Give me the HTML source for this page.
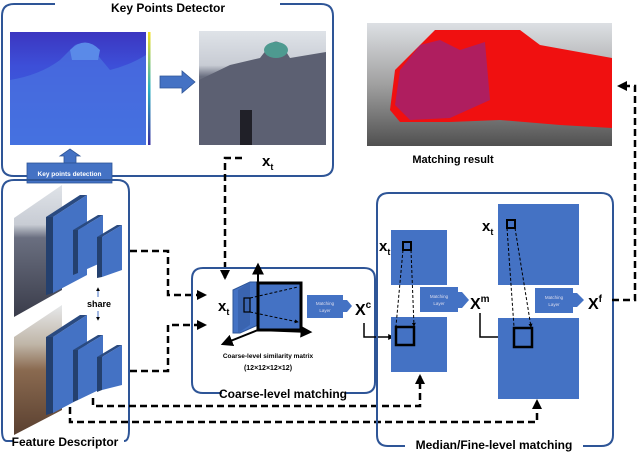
<!DOCTYPE html>
<html><head><meta charset="utf-8"><style>
html,body{margin:0;padding:0;background:#fff;}
svg{display:block;font-family:"Liberation Sans",Arial,sans-serif;}
</style></head><body>
<svg width="640" height="453" viewBox="0 0 640 453" xmlns="http://www.w3.org/2000/svg">
<defs>
<marker id="ah" viewBox="0 0 10 10" refX="8" refY="5" markerWidth="4" markerHeight="4" orient="auto"><path d="M0,0 L10,5 L0,10 z" fill="#000"/></marker>
<marker id="ahs" viewBox="0 0 10 10" refX="8" refY="5" markerWidth="6" markerHeight="6" orient="auto"><path d="M0,0 L10,5 L0,10 z" fill="#000"/></marker>
<linearGradient id="sky" x1="0" y1="0" x2="0" y2="1"><stop offset="0" stop-color="#dfe3e8"/><stop offset="0.3" stop-color="#c8ccd4"/><stop offset="0.4" stop-color="#6a6f80"/><stop offset="1" stop-color="#3a3c4a"/></linearGradient>
<linearGradient id="sky2" x1="0" y1="0" x2="0" y2="1"><stop offset="0" stop-color="#e6e8ea"/><stop offset="0.3" stop-color="#c0b6a8"/><stop offset="0.5" stop-color="#8a6a50"/><stop offset="1" stop-color="#5a4030"/></linearGradient>
<linearGradient id="heat" x1="0" y1="0" x2="0" y2="1"><stop offset="0" stop-color="#3c36c0"/><stop offset="0.3" stop-color="#3d4fd8"/><stop offset="1" stop-color="#3a6ee0"/></linearGradient>
<linearGradient id="cbar" x1="0" y1="1" x2="0" y2="0"><stop offset="0" stop-color="#3a2fa0"/><stop offset="0.5" stop-color="#2bb0c0"/><stop offset="1" stop-color="#f5e020"/></linearGradient>
<linearGradient id="res" x1="0" y1="0" x2="0" y2="1"><stop offset="0" stop-color="#dde0e4"/><stop offset="0.5" stop-color="#a0a0a0"/><stop offset="1" stop-color="#505050"/></linearGradient>
</defs>

<!-- Key Points Detector box -->
<path d="M55,4 H14 Q2,4 2,16 V165 Q2,176 14,176 H321 Q333,176 333,165 V16 Q333,4 321,4 H280" fill="none" stroke="#2e5597" stroke-width="2"/>
<text x="168" y="12" font-size="12" font-weight="bold" text-anchor="middle">Key Points Detector</text>
<rect x="10" y="32" width="136" height="113" fill="url(#heat)"/>
<path d="M10,80 Q40,75 60,60 L75,45 Q85,40 95,52 L110,70 Q130,65 146,55 V145 H10 Z" fill="#4a74e0" opacity="0.7"/>
<path d="M70,50 Q85,35 100,50 L98,60 L72,60 Z" fill="#5a8ae8"/>
<rect x="148" y="32" width="2.5" height="113" fill="url(#cbar)"/>
<path d="M160,76 H182 V71 L195,82 L182,93 V88 H160 Z" fill="#4472c4" stroke="#2e5597" stroke-width="0.8"/>
<rect x="199" y="31" width="127" height="114" fill="url(#sky)"/>
<path d="M199,80 L230,65 L260,58 L270,45 Q276,38 282,45 L290,58 L326,52 V145 H199 Z" fill="#5c6072"/>
<ellipse cx="276" cy="50" rx="12" ry="8" fill="#4e9a90"/>
<rect x="240" y="110" width="12" height="35" fill="#202028"/>
<!-- Key points detection box -->
<path d="M64,163 V156 H60 L70,149 L80,156 H76 V163 Z" fill="#4472c4" stroke="#2e5597" stroke-width="0.8"/>
<rect x="27" y="163" width="85" height="20" fill="#4472c4" stroke="#2e5597" stroke-width="0.8"/>
<text x="69.5" y="176" font-size="6.5" fill="#fff" text-anchor="middle" font-weight="bold">Key points detection</text>
<text x="262" y="166" font-size="15" font-weight="bold">x<tspan font-size="9" dy="4">t</tspan></text>
<path d="M242,158 H225 V278" fill="none" stroke="#000" stroke-width="2.5" stroke-dasharray="7,4" marker-end="url(#ah)"/>

<!-- Feature Descriptor box -->
<path d="M13,441 H7 Q2,441 2,430 V192 Q2,180 14,180 H117 Q129,180 129,192 V430 Q129,441 124,441" fill="none" stroke="#2e5597" stroke-width="2"/>
<text x="65" y="446" font-size="12" font-weight="bold" text-anchor="middle">Feature Descriptor</text>
<polygon points="14,218 62,185 62,290 14,317" fill="url(#sky)"/>
<polygon points="46,217 80,195 87,195 53,217" fill="#2a4a80"/>
<polygon points="46,217 53,217 53,293 46,295" fill="#24406e"/>
<polygon points="53,217 87,195 87,275 53,293" fill="#4472c4"/>
<polygon points="73,230 98,215 103,215 78,230" fill="#2a4a80"/>
<polygon points="73,230 78,230 78,273 73,275" fill="#24406e"/>
<polygon points="78,230 103,215 103,262 78,273" fill="#4472c4"/>
<polygon points="97,237 117,225 122,225 102,237" fill="#2a4a80"/>
<polygon points="97,237 102,237 102,277 97,278" fill="#24406e"/>
<polygon points="102,237 122,225 122,270 102,277" fill="#4472c4"/>
<polygon points="14,337 62,305 62,410 14,435" fill="url(#sky2)"/>
<polygon points="46,337 80,315 87,315 53,337" fill="#2a4a80"/>
<polygon points="46,337 53,337 53,413 46,415" fill="#24406e"/>
<polygon points="53,337 87,315 87,395 53,413" fill="#4472c4"/>
<polygon points="73,350 98,335 103,335 78,350" fill="#2a4a80"/>
<polygon points="73,350 78,350 78,400 73,402" fill="#24406e"/>
<polygon points="78,350 103,335 103,388 78,400" fill="#4472c4"/>
<polygon points="97,357 117,345 122,345 102,357" fill="#2a4a80"/>
<polygon points="97,357 102,357 102,390 97,392" fill="#24406e"/>
<polygon points="102,357 122,345 122,385 102,390" fill="#4472c4"/>
<text x="99" y="307" font-size="9" font-weight="bold" text-anchor="middle">share</text>
<path d="M98,297 V288" stroke="#4472c4" stroke-width="1" marker-end="url(#ah)"/>
<path d="M98,311 V320" stroke="#4472c4" stroke-width="1" marker-end="url(#ah)"/>

<!-- dashed connectors -->
<path d="M130,251 H168 V295 H205" fill="none" stroke="#000" stroke-width="2.5" stroke-dasharray="7,4" marker-end="url(#ah)"/>
<path d="M130,371 H168 V325 H205" fill="none" stroke="#000" stroke-width="2.5" stroke-dasharray="7,4" marker-end="url(#ah)"/>
<path d="M93,398 V406 H420 V376" fill="none" stroke="#000" stroke-width="2.5" stroke-dasharray="7,4" marker-end="url(#ah)"/>
<path d="M70,407 V422 H537 V401" fill="none" stroke="#000" stroke-width="2.5" stroke-dasharray="7,4" marker-end="url(#ah)"/>

<!-- Coarse box -->
<path d="M222,393 H203 Q192,393 192,382 V279 Q192,268 203,268 H364 Q375,268 375,279 V382 Q375,393 364,393 H345" fill="none" stroke="#2e5597" stroke-width="2"/>
<text x="283" y="398" font-size="12" font-weight="bold" text-anchor="middle">Coarse-level matching</text>
<text x="218" y="311" font-size="15" font-weight="bold">x<tspan font-size="9" dy="4">t</tspan></text>
<polygon points="233,290 250,282 258,282 258,325 240,333 233,333" fill="#4472c4" stroke="#2e5597"/>
<polygon points="238,290 250,282 250,325 238,333" fill="#3a64b0"/>
<rect x="258" y="283" width="43" height="47" fill="#4472c4" stroke="#000" stroke-width="3"/>
<line x1="258" y1="330" x2="258" y2="265" stroke="#000" stroke-width="2" marker-end="url(#ahs)"/>
<line x1="258" y1="330" x2="310" y2="332" stroke="#000" stroke-width="2" marker-end="url(#ahs)"/>
<line x1="258" y1="330" x2="223" y2="344" stroke="#000" stroke-width="2" marker-end="url(#ahs)"/>
<rect x="244" y="298" width="6" height="14" fill="none" stroke="#000" stroke-width="1.2"/>
<path d="M250,298 L298,287 M250,312 L298,322" stroke="#000" stroke-width="1" stroke-dasharray="3,2" marker-end="url(#ah)"/>
<rect x="307" y="295" width="36" height="23" fill="#4472c4"/>
<polygon points="343,300 347,300 352,306 347,312 343,312" fill="#4472c4"/>
<text x="325" y="305" font-size="4.5" fill="#dde" text-anchor="middle">Matching</text>
<text x="325" y="312" font-size="4.5" fill="#dde" text-anchor="middle">Layer</text>
<text x="355" y="315" font-size="16" font-weight="bold">X<tspan font-size="10" dy="-7">c</tspan></text>
<path d="M364,323 V337 H393" fill="none" stroke="#000" stroke-width="1.5" marker-end="url(#ah)"/>
<text x="268" y="358" font-size="6.5" font-weight="bold" text-anchor="middle">Coarse-level similarity matrix</text>
<text x="268" y="370" font-size="7" font-weight="bold" text-anchor="middle">(12×12×12×12)</text>

<!-- Median box -->
<path d="M405,446 H388 Q377,446 377,435 V205 Q377,193 389,193 H601 Q613,193 613,205 V435 Q613,446 601,446 H583" fill="none" stroke="#2e5597" stroke-width="2"/>
<text x="494" y="449" font-size="12" font-weight="bold" text-anchor="middle">Median/Fine-level matching</text>
<rect x="391" y="230" width="56" height="55" fill="#4472c4"/>
<rect x="391" y="317" width="56" height="55" fill="#4472c4"/>
<text x="379" y="251" font-size="15" font-weight="bold">x<tspan font-size="9" dy="4">t</tspan></text>
<rect x="403" y="242" width="8" height="8" fill="none" stroke="#000" stroke-width="2"/>
<rect x="396" y="327" width="18" height="18" fill="none" stroke="#000" stroke-width="2.5"/>
<path d="M403,250 L396,326 M411,250 L414,326" stroke="#000" stroke-width="1" stroke-dasharray="3,2" marker-end="url(#ah)"/>
<rect x="420" y="287" width="38" height="25" fill="#4472c4"/>
<polygon points="458,292 462,292 469,300 462,308 458,308" fill="#4472c4"/>
<text x="439" y="298" font-size="4.5" fill="#dde" text-anchor="middle">Matching</text>
<text x="439" y="305" font-size="4.5" fill="#dde" text-anchor="middle">Layer</text>
<text x="470" y="309" font-size="16" font-weight="bold">X<tspan font-size="10" dy="-7">m</tspan></text>
<path d="M480,313 V337 H512" fill="none" stroke="#000" stroke-width="1.5" marker-end="url(#ah)"/>

<rect x="498" y="204" width="81" height="81" fill="#4472c4"/>
<rect x="498" y="318" width="81" height="81" fill="#4472c4"/>
<text x="482" y="231" font-size="15" font-weight="bold">x<tspan font-size="9" dy="4">t</tspan></text>
<rect x="507" y="220" width="8" height="8" fill="none" stroke="#000" stroke-width="2"/>
<rect x="514" y="328" width="18" height="19" fill="none" stroke="#000" stroke-width="2.5"/>
<path d="M507,228 L514,327 M515,228 L531,327" stroke="#000" stroke-width="1" stroke-dasharray="3,2" marker-end="url(#ah)"/>
<rect x="535" y="288" width="38" height="25" fill="#4472c4"/>
<polygon points="573,293 577,293 584,300 577,307 573,307" fill="#4472c4"/>
<text x="554" y="299" font-size="4.5" fill="#dde" text-anchor="middle">Matching</text>
<text x="554" y="306" font-size="4.5" fill="#dde" text-anchor="middle">Layer</text>
<text x="588" y="309" font-size="16" font-weight="bold">X<tspan font-size="10" dy="-7">f</tspan></text>
<path d="M612,300 H635 V86 H619" fill="none" stroke="#000" stroke-width="2.5" stroke-dasharray="7,4" marker-end="url(#ah)"/>

<!-- Matching result -->
<rect x="367" y="23" width="245" height="123" fill="url(#res)"/>
<path d="M390,110 L395,70 L420,45 L435,30 L520,30 L540,45 L612,58 V128 L560,125 L500,120 L450,122 L400,122 Z" fill="#f01010"/>
<path d="M395,105 L400,70 L420,45 L440,40 L460,50 L485,42 L490,100 L450,118 L410,120 Z" fill="#7a2aa0" opacity="0.55"/>
<text x="453" y="163" font-size="11" font-weight="bold" text-anchor="middle">Matching result</text>
</svg>
</body></html>
